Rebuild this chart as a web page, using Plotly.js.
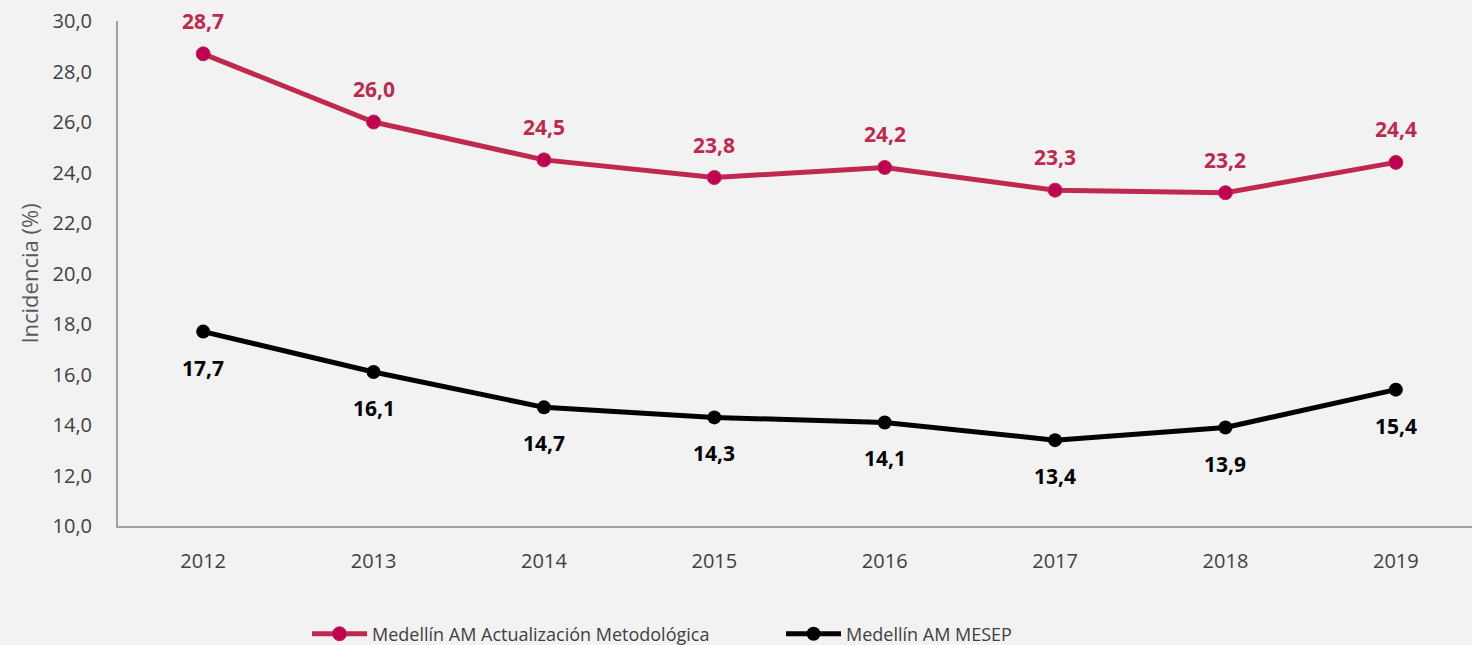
<!DOCTYPE html>
<html>
<head>
<meta charset="utf-8">
<script src="https://cdn.plot.ly/plotly-3.0.1.min.js"></script>
<style>html,body{margin:0;padding:0;background:#f2f2f2;}</style>
</head>
<body>
<div id="chart" style="width:1472px;height:645px;"></div>
<script>
const years = ["2012","2013","2014","2015","2016","2017","2018","2019"];
const actualizacion = [28.7, 26.0, 24.5, 23.8, 24.2, 23.3, 23.2, 24.4];
const mesep = [17.7, 16.1, 14.7, 14.3, 14.1, 13.4, 13.9, 15.4];
const seriesNames = ["Medellín AM Actualización Metodológica", "Medellín AM MESEP"];

const red = "#c0294f";
const redMarker = "#c00050";
const black = "#000000";
const fontFam = "'Open Sans', 'Noto Sans', sans-serif";

const fmt = v => v.toFixed(1).replace(".", ",");

const traces = [
  {x: years, y: actualizacion, name: seriesNames[0], type: "scatter", mode: "lines+markers",
   line: {color: red, width: 5}, marker: {color: redMarker, size: 14, line: {color: red, width: 1}}},
  {x: years, y: mesep, name: seriesNames[1], type: "scatter", mode: "lines+markers",
   line: {color: black, width: 5}, marker: {color: black, size: 14}}
];

const annotations = [];
years.forEach((yr, i) => {
  annotations.push({x: i, y: actualizacion[i], xref: "x", yref: "y", text: "<b>" + fmt(actualizacion[i]) + "</b>", showarrow: false,
    yshift: 33, font: {family: fontFam, size: 21, color: red}});
  annotations.push({x: i, y: mesep[i], xref: "x", yref: "y", text: "<b>" + fmt(mesep[i]) + "</b>", showarrow: false,
    yshift: -36, font: {family: fontFam, size: 21, color: black}});
});

const layout = {
  width: 1472, height: 645,
  paper_bgcolor: "#f2f2f2", plot_bgcolor: "#f2f2f2",
  separators: ",.",
  margin: {l: 118, r: 0, t: 21, b: 119},
  font: {family: fontFam, color: "#404040"},
  showlegend: true,
  xaxis: {type: "category", range: [-0.5, 7.447], showgrid: false, zeroline: false,
    showline: true, linecolor: "#a0a0a0", linewidth: 2, ticks: "", ticklabelstandoff: 16,
    tickfont: {size: 20, color: "#404040", family: fontFam}},
  yaxis: {range: [10, 30], dtick: 2, tickformat: ".1f", showgrid: false, zeroline: false,
    showline: true, linecolor: "#a0a0a0", linewidth: 2, ticks: "", ticklabelstandoff: 20,
    tickfont: {size: 20, color: "#404040", family: fontFam},
    title: {text: "Incidencia (%)", font: {size: 22, color: "#595959", family: fontFam}, standoff: 8}},
  legend: {orientation: "h", x: 0.1396, xanchor: "left", yref: "container", y: 0.017, yanchor: "middle",
    font: {size: 18, color: "#404040", family: fontFam}, bgcolor: "rgba(0,0,0,0)", itemwidth: 55,
    entrywidth: 404, entrywidthmode: "pixels"},
  annotations: annotations
};

Plotly.newPlot("chart", traces, layout, {displayModeBar: false, staticPlot: true});
</script>
</body>
</html>
